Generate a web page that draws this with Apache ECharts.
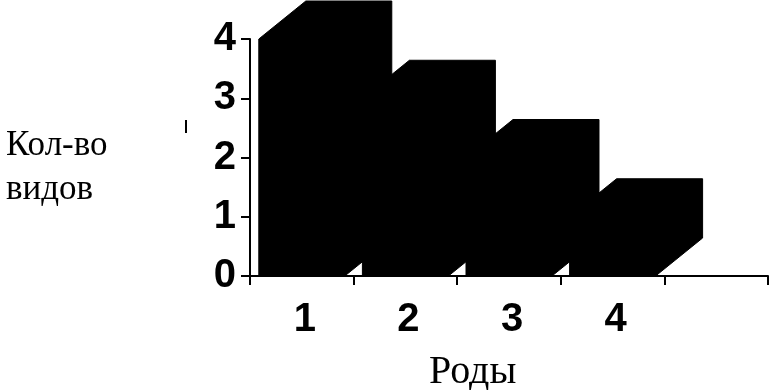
<!DOCTYPE html>
<html>
<head>
<meta charset="utf-8">
<script src="https://cdn.jsdelivr.net/npm/echarts@6/dist/echarts.min.js"></script>
<style>
html,body{margin:0;padding:0;background:#fff;}
#c{width:772px;height:390px;}
</style>
</head>
<body>
<div id="c"></div>
<script>
const categories = ['1', '2', '3', '4', ''];
const speciesCount = [4, 3, 2, 1];
const yTicks = [0, 1, 2, 3, 4];
const yName = 'Кол-во\nвидов';
const xName = 'Роды';

const chart = echarts.init(document.getElementById('c'), null, {renderer: 'canvas'});
const DX = 47, DY = 38;
const sans = '"Liberation Sans", Arial, sans-serif';
const serif = '"Liberation Serif", "Times New Roman", serif';

chart.setOption({
  backgroundColor: '#fff',
  animation: false,
  title: [
    {text: yName, left: 1, top: 119,
     textStyle: {fontFamily: serif, fontWeight: 'normal', fontSize: 35, lineHeight: 44, color: '#000'}},
    {text: xName, left: 424, top: 347,
     textStyle: {fontFamily: serif, fontWeight: 'normal', fontSize: 40, color: '#000'}}
  ],
  grid: {left: 250, right: 4, top: 39, bottom: 114, containLabel: false},
  xAxis: {
    type: 'category',
    data: categories,
    boundaryGap: true,
    axisLine: {show: true, lineStyle: {color: '#000', width: 2}},
    axisTick: {show: true, interval: 0, length: 9, lineStyle: {color: '#000', width: 2}},
    axisLabel: {interval: 0, margin: 24, padding: [0, 0, 0, 6], fontFamily: sans, fontWeight: 'bold', fontSize: 40, color: '#000'},
    splitLine: {show: false}
  },
  yAxis: {
    type: 'value',
    min: yTicks[0], max: yTicks[yTicks.length - 1], interval: 1,
    axisLine: {show: true, lineStyle: {color: '#000', width: 2}},
    axisTick: {show: true, length: 9, lineStyle: {color: '#000', width: 2}},
    axisLabel: {margin: 14, fontFamily: sans, fontWeight: 'bold', fontSize: 40, color: '#000'},
    splitLine: {show: false}
  },
  graphic: [
    {type: 'rect', shape: {x: 185, y: 120, width: 2, height: 13}, style: {fill: '#000'}}
  ],
  series: [{
    type: 'custom',
    clip: false,
    data: speciesCount.map((v, i) => [i, v]),
    renderItem: function (params, api) {
      const xi = api.value(0), v = api.value(1);
      const base = api.coord([xi, 0]);
      const top = api.coord([xi, v]);
      const band = api.size([1, 0])[0];
      const w = band * 0.83;
      const xl = base[0] - w / 2, xr = base[0] + w / 2;
      const yb = base[1], yt = top[1];
      return {
        type: 'polygon',
        shape: {points: [[xl, yb], [xl, yt], [xl + DX, yt - DY], [xr + DX, yt - DY], [xr + DX, yb - DY], [xr, yb]]},
        style: {fill: '#000', stroke: '#000', lineWidth: 1}
      };
    }
  }]
});
</script>
</body>
</html>
